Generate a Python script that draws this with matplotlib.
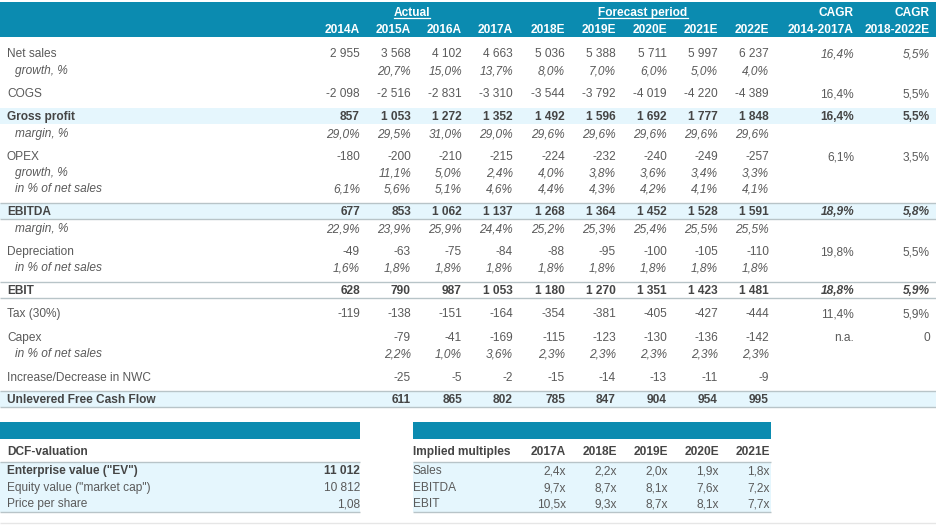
import matplotlib
matplotlib.use("Agg")
import matplotlib.pyplot as plt
from matplotlib.patches import Rectangle

plt.rcParams['font.family'] = ['Liberation Sans', 'DejaVu Sans']

# ---------------- data ----------------
years = ['2014A', '2015A', '2016A', '2017A', '2018E', '2019E', '2020E', '2021E', '2022E']
net_sales = [2955, 3568, 4102, 4663, 5036, 5388, 5711, 5997, 6237]
sales_growth = [None, 20.7, 15.0, 13.7, 8.0, 7.0, 6.0, 5.0, 4.0]
cogs = [-2098, -2516, -2831, -3310, -3544, -3792, -4019, -4220, -4389]
gross_profit = [857, 1053, 1272, 1352, 1492, 1596, 1692, 1777, 1848]
gross_margin = [29.0, 29.5, 31.0, 29.0, 29.6, 29.6, 29.6, 29.6, 29.6]
opex = [-180, -200, -210, -215, -224, -232, -240, -249, -257]
opex_growth = [None, 11.1, 5.0, 2.4, 4.0, 3.8, 3.6, 3.4, 3.3]
opex_pct = [6.1, 5.6, 5.1, 4.6, 4.4, 4.3, 4.2, 4.1, 4.1]
ebitda = [677, 853, 1062, 1137, 1268, 1364, 1452, 1528, 1591]
ebitda_margin = [22.9, 23.9, 25.9, 24.4, 25.2, 25.3, 25.4, 25.5, 25.5]
depreciation = [-49, -63, -75, -84, -88, -95, -100, -105, -110]
depr_pct = [1.6, 1.8, 1.8, 1.8, 1.8, 1.8, 1.8, 1.8, 1.8]
ebit = [628, 790, 987, 1053, 1180, 1270, 1351, 1423, 1481]
tax = [-119, -138, -151, -164, -354, -381, -405, -427, -444]
capex = [None, -79, -41, -169, -115, -123, -130, -136, -142]
capex_pct = [None, 2.2, 1.0, 3.6, 2.3, 2.3, 2.3, 2.3, 2.3]
nwc_change = [None, -25, -5, -2, -15, -14, -13, -11, -9]
ufcf = [None, 611, 865, 802, 785, 847, 904, 954, 995]

cagr_headers = [('CAGR', '2014-2017A'), ('CAGR', '2018-2022E')]
cagr_net_sales = ['16,4%', '5,5%']
cagr_cogs = ['16,4%', '5,5%']
cagr_gross = ['16,4%', '5,5%']
cagr_opex = ['6,1%', '3,5%']
cagr_ebitda = ['18,9%', '5,8%']
cagr_depr = ['19,8%', '5,5%']
cagr_ebit = ['18,8%', '5,9%']
cagr_tax = ['11,4%', '5,9%']
cagr_capex = ['n.a.', '0']

dcf_labels = ['Enterprise value ("EV")', 'Equity value ("market cap")', 'Price per share']
dcf_values = ['11 012', '10 812', '1,08']

mult_years = ['2017A', '2018E', '2019E', '2020E', '2021E']
mult_labels = ['Sales', 'EBITDA', 'EBIT']
mult_sales = [2.4, 2.2, 2.0, 1.9, 1.8]
mult_ebitda = [9.7, 8.7, 8.1, 7.6, 7.2]
mult_ebit = [10.5, 9.3, 8.7, 8.1, 7.7]

# ---------------- styling ----------------
TEAL = '#0b8bb0'
LIGHT = '#e5f6fd'
TXT = '#5a5a5a'
TXT_B = '#454545'
LINE = '#b8c4c8'
FS = 8.6
BASE = 4.3   # baseline offset from row centre (px)

W, H = 937, 525
fig = plt.figure(figsize=(W / 100, H / 100), dpi=100)
ax = fig.add_axes([0, 0, 1, 1])
ax.set_xlim(0, W)
ax.set_ylim(H, 0)
ax.axis('off')

col_right = [360, 411, 462, 513, 565, 616, 667, 718, 769]
cagr_right = [854, 930]
label_x = 7
indent_x = 15


def txt(x, y, s, ha='left', **kw):
    kw.setdefault('fontsize', FS)
    return ax.text(x, y + BASE, s, ha=ha, va='baseline', **kw)


def fmt_int(v):
    if v is None:
        return ''
    s = f"{abs(v):,}".replace(',', ' ')
    return ('-' if v < 0 else '') + s


def fmt_pct(v):
    if v is None:
        return ''
    return f"{v:.1f}%".replace('.', ',')


def hline(y, x0=0, x1=W, color=LINE, lw=1.0):
    ax.plot([x0, x1], [y, y], color=color, lw=lw, solid_capstyle='butt')


def band(y0, y1, x0=0, x1=W, color=LIGHT):
    ax.add_patch(Rectangle((x0, y0), x1 - x0, y1 - y0, color=color, lw=0))


# header band
band(2, 37, color=TEAL)
for yr, xr in zip(years, col_right):
    txt(xr, 29, yr, ha='right', color='white', fontweight='bold')
for (h1, h2), xr in zip(cagr_headers, cagr_right):
    txt(xr, 12, h1, ha='right', color='white', fontweight='bold')
    txt(xr, 29, h2, ha='right', color='white', fontweight='bold')

group_titles = [('Actual', 412), ('Forecast period', 643)]
title_artists = []
for t, xc in group_titles:
    title_artists.append(txt(xc, 12, t, ha='center', color='white', fontweight='bold'))

# row definitions: (y, label, values, kind, bold, italic, cagr, cagr_style)
rows = [
    (53, 'Net sales', net_sales, 'int', False, False, cagr_net_sales, 'italic'),
    (70, 'growth, %', sales_growth, 'pct', False, True, None, None),
    (93, 'COGS', cogs, 'int', False, False, cagr_cogs, 'normal'),
    (116, 'Gross profit', gross_profit, 'int', True, False, cagr_gross, 'bold'),
    (133, 'margin, %', gross_margin, 'pct', False, True, None, None),
    (156, 'OPEX', opex, 'int', False, False, cagr_opex, 'normal'),
    (172, 'growth, %', opex_growth, 'pct', False, True, None, None),
    (188, 'in % of net sales', opex_pct, 'pct', False, True, None, None),
    (211, 'EBITDA', ebitda, 'int', True, False, cagr_ebitda, 'bolditalic'),
    (228, 'margin, %', ebitda_margin, 'pct', False, True, None, None),
    (251, 'Depreciation', depreciation, 'int', False, False, cagr_depr, 'normal'),
    (267, 'in % of net sales', depr_pct, 'pct', False, True, None, None),
    (290, 'EBIT', ebit, 'int', True, False, cagr_ebit, 'bolditalic'),
    (313, 'Tax (30%)', tax, 'int', False, False, cagr_tax, 'normal'),
    (337, 'Capex', capex, 'int', False, False, cagr_capex, 'normal'),
    (353, 'in % of net sales', capex_pct, 'pct', False, True, None, None),
    (377, 'Increase/Decrease in NWC', nwc_change, 'int', False, False, None, None),
    (399, 'Unlevered Free Cash Flow', ufcf, 'int', True, False, None, None),
]

# bands and lines
band(108, 124)            # gross profit
band(203, 219)            # EBITDA
band(391, 407)            # UFCF
hline(203)
hline(219)
hline(282)
hline(298)
hline(391)
hline(407)

for y, label, vals, kind, bold, italic, cagr, cstyle in rows:
    fw = 'bold' if bold else 'normal'
    fst = 'italic' if italic else 'normal'
    col = TXT_B if bold else TXT
    txt(indent_x if italic else label_x, y, label, fontweight=fw, fontstyle=fst, color=col)
    for v, xr in zip(vals, col_right):
        s = fmt_int(v) if kind == 'int' else fmt_pct(v)
        txt(xr, y, s, ha='right', fontweight=fw, fontstyle=fst, color=col)
    if cagr:
        cfw = 'bold' if 'bold' in cstyle else 'normal'
        cfs = 'italic' if 'italic' in cstyle else 'normal'
        for s, xr in zip(cagr, cagr_right):
            txt(xr, y, s, ha='right', fontweight=cfw, fontstyle=cfs,
                color=TXT_B if cfw == 'bold' else TXT)

# ---------------- DCF valuation box ----------------
band(422, 439, 0, 360, color=TEAL)
txt(label_x, 451, 'DCF-valuation', fontweight='bold', color=TXT_B)
band(462, 512, 0, 360)
hline(462, 0, 360)
hline(512, 0, 360)
dcf_y = [470, 487, 503]
for i, (lab, val, yy) in enumerate(zip(dcf_labels, dcf_values, dcf_y)):
    fw = 'bold' if i == 0 else 'normal'
    c = TXT_B if i == 0 else TXT
    txt(label_x, yy, lab, fontweight=fw, color=c)
    txt(360, yy, val, ha='right', fontweight=fw, color=c)

# ---------------- implied multiples box ----------------
mx0, mx1 = 413, 771
mult_right = [566, 617, 668, 719, 770]
band(422, 439, mx0, mx1, color=TEAL)
txt(mx0, 451, 'Implied multiples', fontweight='bold', color=TXT_B)
for yr, xr in zip(mult_years, mult_right):
    txt(xr, 451, yr, ha='right', fontweight='bold', color=TXT_B)
band(462, 512, mx0, mx1)
hline(462, mx0, mx1)
hline(512, mx0, mx1)
for lab, vals, yy in zip(mult_labels, [mult_sales, mult_ebitda, mult_ebit], dcf_y):
    txt(mx0, yy, lab, color=TXT)
    for v, xr in zip(vals, mult_right):
        txt(xr, yy, f"{v:.1f}x".replace('.', ','), ha='right', color=TXT)

hline(523, 0, W, color='#e6e6e6')

# underline group titles
fig.canvas.draw()
r = fig.canvas.get_renderer()
inv = ax.transData.inverted()
for t in title_artists:
    bb = t.get_window_extent(renderer=r)
    (x0, _), (x1, _) = inv.transform([(bb.x0, bb.y0), (bb.x1, bb.y0)])
    ax.plot([x0, x1], [18, 18], color='white', lw=0.9)

fig.savefig('out.png', dpi=100)
